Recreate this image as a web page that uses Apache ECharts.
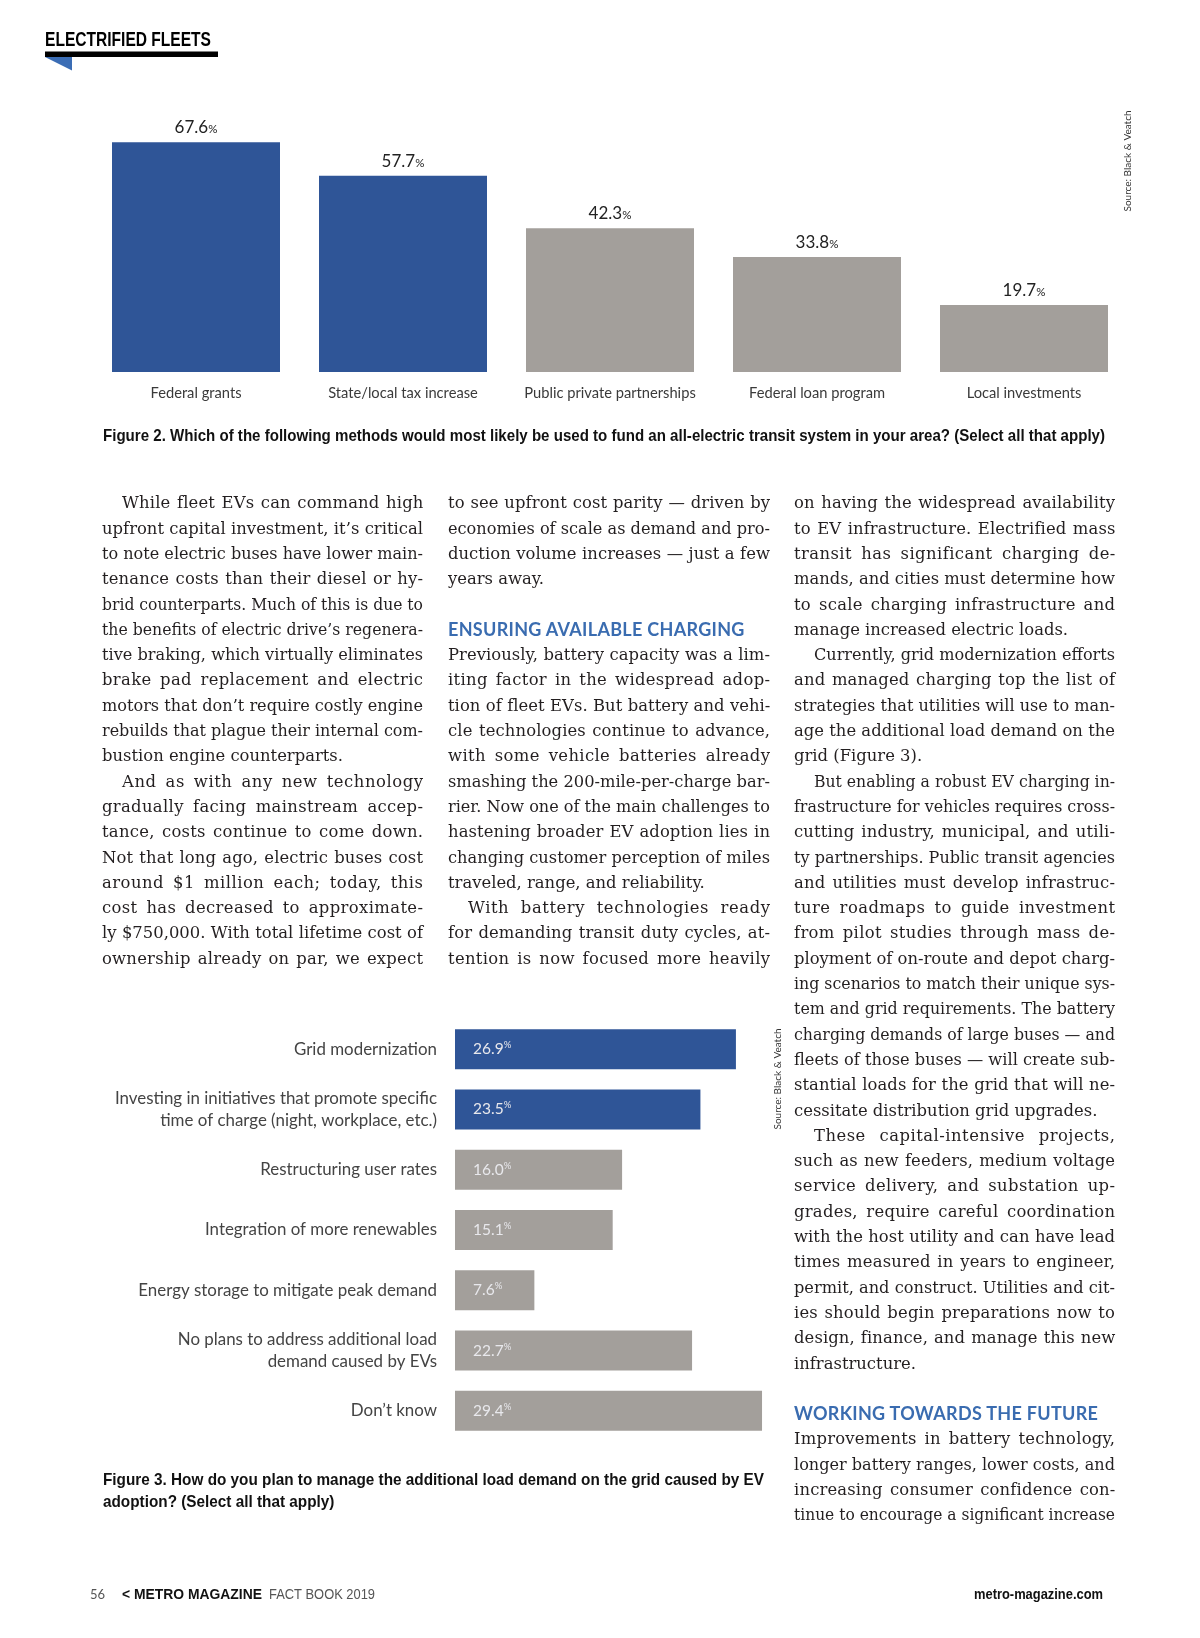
<!DOCTYPE html>
<html>
<head>
<meta charset="utf-8">
<script src="https://cdn.jsdelivr.net/npm/echarts@6/dist/echarts.min.js"></script>
<style>
html,body{margin:0;padding:0;background:#fff;}
#page{position:relative;width:1200px;height:1638px;overflow:hidden;background:#fff;}
#chart{position:absolute;left:0;top:0;width:1200px;height:1638px;}
#txt{position:absolute;left:0;top:0;width:1200px;height:1638px;pointer-events:none;}
.ln{position:absolute;height:25.3px;line-height:25.3px;white-space:nowrap;font-family:"DejaVu Serif",serif;font-size:16.4px;color:#231f20;}
.ln span{white-space:nowrap;}
.hd{font-family:Lato,"Open Sans",sans-serif;font-weight:bold;font-size:18px;color:#3a6cb0;letter-spacing:0.3px;}
</style>
</head>
<body>
<div id="page">
<div id="chart"></div>
<div id="txt"></div>
</div>
<script>
// ---------- data ----------
const fundCategories = ['Federal grants', 'State/local tax increase', 'Public private partnerships', 'Federal loan program', 'Local investments'];
const fundValues = [67.6, 57.7, 42.3, 33.8, 19.7];

const gridCategories = [
  'Grid modernization',
  'Investing in initiatives that promote specific\ntime of charge (night, workplace, etc.)',
  'Restructuring user rates',
  'Integration of more renewables',
  'Energy storage to mitigate peak demand',
  'No plans to address additional load\ndemand caused by EVs',
  'Don\u2019t know'
];
const gridValues = [26.9, 23.5, 16.0, 15.1, 7.6, 22.7, 29.4];

const fig2Caption = 'Figure 2. Which of the following methods would most likely be used to fund an all-electric transit system in your area? (Select all that apply)';
const fig3Line1 = 'Figure 3. How do you plan to manage the additional load demand on the grid caused by EV';
const fig3Line2 = 'adoption? (Select all that apply)';
const sourceText = 'Source: Black & Veatch';

// ---------- body text ----------
const col1 = [
  '>While fleet EVs can command high',
  'upfront capital investment, it\u2019s critical',
  'to note electric buses have lower main-',
  'tenance costs than their diesel or hy-',
  'brid counterparts. Much of this is due to',
  'the benefits of electric drive\u2019s regenera-',
  'tive braking, which virtually eliminates',
  'brake pad replacement and electric',
  'motors that don\u2019t require costly engine',
  'rebuilds that plague their internal com-',
  'bustion engine counterparts.|',
  '>And as with any new technology',
  'gradually facing mainstream accep-',
  'tance, costs continue to come down.',
  'Not that long ago, electric buses cost',
  'around $1 million each; today, this',
  'cost has decreased to approximate-',
  'ly $750,000. With total lifetime cost of',
  'ownership already on par, we expect'
];
const col2 = [
  'to see upfront cost parity \u2014 driven by',
  'economies of scale as demand and pro-',
  'duction volume increases \u2014 just a few',
  'years away.|',
  '',
  '#ENSURING AVAILABLE CHARGING',
  'Previously, battery capacity was a lim-',
  'iting factor in the widespread adop-',
  'tion of fleet EVs. But battery and vehi-',
  'cle technologies continue to advance,',
  'with some vehicle batteries already',
  'smashing the 200-mile-per-charge bar-',
  'rier. Now one of the main challenges to',
  'hastening broader EV adoption lies in',
  'changing customer perception of miles',
  'traveled, range, and reliability.|',
  '>With battery technologies ready',
  'for demanding transit duty cycles, at-',
  'tention is now focused more heavily'
];
const col3 = [
  'on having the widespread availability',
  'to EV infrastructure. Electrified mass',
  'transit has significant charging de-',
  'mands, and cities must determine how',
  'to scale charging infrastructure and',
  'manage increased electric loads.|',
  '>Currently, grid modernization efforts',
  'and managed charging top the list of',
  'strategies that utilities will use to man-',
  'age the additional load demand on the',
  'grid (Figure 3).|',
  '>But enabling a robust EV charging in-',
  'frastructure for vehicles requires cross-',
  'cutting industry, municipal, and utili-',
  'ty partnerships. Public transit agencies',
  'and utilities must develop infrastruc-',
  'ture roadmaps to guide investment',
  'from pilot studies through mass de-',
  'ployment of on-route and depot charg-',
  'ing scenarios to match their unique sys-',
  'tem and grid requirements. The battery',
  'charging demands of large buses \u2014 and',
  'fleets of those buses \u2014 will create sub-',
  'stantial loads for the grid that will ne-',
  'cessitate distribution grid upgrades.|',
  '>These capital-intensive projects,',
  'such as new feeders, medium voltage',
  'service delivery, and substation up-',
  'grades, require careful coordination',
  'with the host utility and can have lead',
  'times measured in years to engineer,',
  'permit, and construct. Utilities and cit-',
  'ies should begin preparations now to',
  'design, finance, and manage this new',
  'infrastructure.|',
  '',
  '#WORKING TOWARDS THE FUTURE',
  'Improvements in battery technology,',
  'longer battery ranges, lower costs, and',
  'increasing consumer confidence con-',
  'tinue to encourage a significant increase'
];

const TXT = document.getElementById('txt');
const LH = 25.3, TOP = 503 - LH / 2;
function buildCol(lines, left, width) {
  lines.forEach((raw, i) => {
    if (!raw) return;
    let t = raw, indent = false, end = false, head = false;
    if (t[0] === '>') { indent = true; t = t.slice(1); }
    if (t[0] === '#') { head = true; t = t.slice(1); }
    if (t.endsWith('|')) { end = true; t = t.slice(0, -1); }
    const d = document.createElement('div');
    d.className = 'ln' + (head ? ' hd' : '');
    d.style.left = left + 'px';
    d.style.top = (TOP + i * LH) + 'px';
    d.style.width = width + 'px';
    const s = document.createElement('span');
    s.textContent = t;
    if (indent) s.style.marginLeft = '20px';
    d.appendChild(s);
    TXT.appendChild(d);
    const W = width - (indent ? 20 : 0);
    const w = s.getBoundingClientRect().width;
    if (w > W) {
      s.style.display = 'inline-block';
      s.style.transformOrigin = '0 50%';
      s.style.transform = 'scaleX(' + (W / w) + ')';
    } else if (!end && !head) {
      const extra = W - w;
      const n = (t.match(/ /g) || []).length;
      const chars = t.length - 1;
      let ls = Math.min(1.2, extra * 0.5 / chars);
      let rest = extra - ls * chars;
      if (n) {
        s.style.letterSpacing = ls + 'px';
        s.style.wordSpacing = (rest / n) + 'px';
      } else {
        s.style.letterSpacing = (extra / chars) + 'px';
      }
    }
  });
}
buildCol(col1, 102, 321);
buildCol(col2, 448, 322);
buildCol(col3, 794, 321);

// ---------- helpers ----------
const mctx = document.createElement('canvas').getContext('2d');
function fit(text, font, target) {
  mctx.font = font;
  return target / mctx.measureText(text).width;
}

// ---------- chart ----------
const BLUE = '#2f5597';
const GRAY = '#a39f9b';
const SANS = 'Lato, "Open Sans", sans-serif';
const CAP = '"Liberation Sans", Arial, sans-serif';

const capFont = 'bold 17px ' + CAP;
const cap2Scale = fit(fig2Caption, capFont, 1002);
const cap3Scale = fit(fig3Line1, capFont, 661);
const headFont = 'bold 20px ' + CAP;
const headScale = fit('ELECTRIFIED FLEETS', headFont, 166);
const brandFont = 'bold 15px ' + CAP;
const brandScale = fit('< METRO MAGAZINE', brandFont, 140);
const factFont = '14px ' + CAP;
const factScale = fit('FACT BOOK 2019', factFont, 106);
const urlFont = 'bold 14.5px ' + CAP;
const urlScale = fit('metro-magazine.com', urlFont, 129);

const chart = echarts.init(document.getElementById('chart'), null, { renderer: 'canvas' });

chart.setOption({
  animation: false,
  backgroundColor: 'transparent',
  grid: [
    { left: 92.5, top: 100, width: 1035, height: 272 },
    { left: 455, top: 1019, width: 313.3, height: 422 }
  ],
  xAxis: [
    {
      gridIndex: 0, type: 'category', data: fundCategories,
      axisLine: { show: false }, axisTick: { show: false }, splitLine: { show: false },
      axisLabel: { interval: 0, color: '#3a3a3a', fontSize: 14.7, fontFamily: SANS, margin: 14 }
    },
    { gridIndex: 1, type: 'value', min: 0, max: 30, show: false }
  ],
  yAxis: [
    { gridIndex: 0, type: 'value', min: 0, max: 80, show: false },
    {
      gridIndex: 1, type: 'category', data: gridCategories, inverse: true,
      axisLine: { show: false }, axisTick: { show: false }, splitLine: { show: false },
      axisLabel: { interval: 0, color: '#444', fontSize: 16.9, fontFamily: SANS, margin: 18, lineHeight: 22, align: 'right' }
    }
  ],
  series: [
    {
      type: 'bar', xAxisIndex: 0, yAxisIndex: 0, barWidth: 168,
      data: fundValues,
      itemStyle: { color: p => (p.dataIndex < 2 ? BLUE : GRAY) },
      label: {
        show: true, position: 'top', distance: 6,
        formatter: p => '{v|' + p.value.toFixed(1) + '}{p|%}',
        rich: {
          v: { fontSize: 17, color: '#222', fontFamily: SANS, verticalAlign: 'bottom', lineHeight: 18 },
          p: { fontSize: 11.5, color: '#222', fontFamily: SANS, verticalAlign: 'bottom', lineHeight: 18, padding: [0, 0, 1, 0] }
        }
      }
    },
    {
      type: 'bar', xAxisIndex: 1, yAxisIndex: 1, barWidth: 40,
      data: gridValues,
      itemStyle: { color: p => (p.dataIndex < 2 ? BLUE : GRAY) },
      label: {
        show: true, position: 'insideLeft', distance: 18,
        formatter: p => '{v|' + p.value.toFixed(1) + '}{p|%}',
        rich: {
          v: { fontSize: 15.5, color: '#e8e8ec', fontFamily: SANS, lineHeight: 18, verticalAlign: 'middle' },
          p: { fontSize: 9.5, color: '#e8e8ec', fontFamily: SANS, lineHeight: 18, verticalAlign: 'top' }
        }
      }
    }
  ],
  graphic: [
    // page header
    { type: 'text', x: 45, y: 40, scaleX: headScale,
      style: { text: 'ELECTRIFIED FLEETS', font: headFont, fill: '#000', verticalAlign: 'middle' } },
    { type: 'rect', shape: { x: 45, y: 51.5, width: 173, height: 5.5 }, style: { fill: '#000' } },
    { type: 'polygon', shape: { points: [[45, 57], [72, 57], [72, 70.5]] }, style: { fill: '#3b6db5' } },
    // sources
    { type: 'text', x: 1128, y: 161, rotation: Math.PI / 2,
      style: { text: sourceText, font: '10px ' + SANS, fill: '#333', align: 'center', verticalAlign: 'middle' } },
    { type: 'text', x: 778, y: 1079, rotation: Math.PI / 2,
      style: { text: sourceText, font: '10px ' + SANS, fill: '#333', align: 'center', verticalAlign: 'middle' } },
    // captions
    { type: 'text', x: 103, y: 436, scaleX: cap2Scale,
      style: { text: fig2Caption, font: capFont, fill: '#111', verticalAlign: 'middle' } },
    { type: 'text', x: 103, y: 1480, scaleX: cap3Scale,
      style: { text: fig3Line1, font: capFont, fill: '#111', verticalAlign: 'middle' } },
    { type: 'text', x: 103, y: 1502, scaleX: cap3Scale,
      style: { text: fig3Line2, font: capFont, fill: '#111', verticalAlign: 'middle' } },
    // footer
    { type: 'text', x: 90, y: 1595, style: { text: '56', font: '13px ' + SANS, fill: '#555', verticalAlign: 'middle' } },
    { type: 'text', x: 122, y: 1595, scaleX: brandScale,
      style: { text: '< METRO MAGAZINE', font: brandFont, fill: '#111', verticalAlign: 'middle' } },
    { type: 'text', x: 269, y: 1595, scaleX: factScale,
      style: { text: 'FACT BOOK 2019', font: factFont, fill: '#555', verticalAlign: 'middle' } },
    { type: 'text', x: 1103, y: 1595, scaleX: urlScale,
      style: { text: 'metro-magazine.com', font: urlFont, fill: '#111', align: 'right', verticalAlign: 'middle' } }
  ]
});
</script>
</body>
</html>
